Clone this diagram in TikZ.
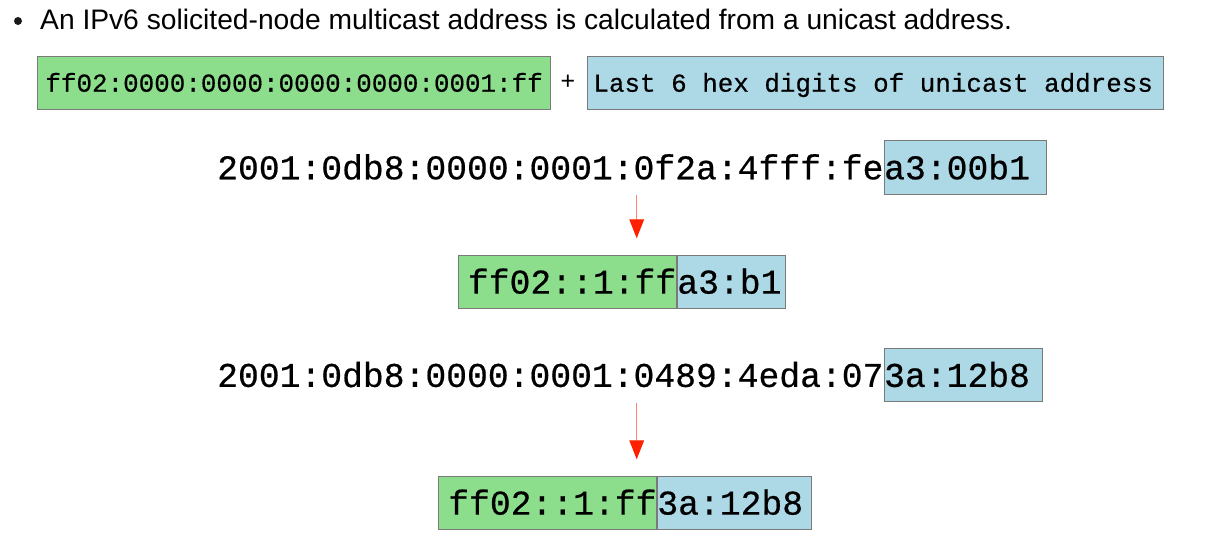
\documentclass[tikz,border=0pt]{standalone}
\usepackage{fontspec}
\setmainfont{Liberation Sans}
\newfontfamily\addrfont[FakeBold=0.5]{Liberation Mono}
\usetikzlibrary{arrows.meta}
\definecolor{mcgreen}{HTML}{8CDE8C}
\definecolor{ucblue}{HTML}{ADD8E6}
\definecolor{edgegray}{HTML}{7A7A7A}
\definecolor{arrowred}{HTML}{FF2000}

% fixed-width box content, text starts after a left pad
\newcommand{\celltext}[3]{\makebox[#1pt][l]{\hspace*{#2pt}#3}}

\begin{document}
\begin{tikzpicture}[x=1pt, y=-1pt,
    cell/.style={draw=edgegray, line width=0.9pt, inner sep=0pt},
    hdr/.style={font=\addrfont\fontsize{25.9}{30}\selectfont, text height=35.7pt, text depth=17.3pt},
    addr/.style={font=\addrfont\fontsize{34.7}{40}\selectfont, inner sep=0pt, text height=38.5pt, text depth=15pt},
    arr/.style={draw=arrowred!55, line width=1pt, -{Triangle[width=14.7pt, length=19pt, color=arrowred]}}]
    \useasboundingbox (0,0) rectangle (1217,555);

    % Heading
    \fill[black!90] (18,21) circle (4);
    \node[anchor=base west, inner sep=0pt, font=\fontsize{28.2}{32}\selectfont] (title) at (40,29.3)
        {An IPv6 solicited-node multicast address is calculated from a unicast address.};

    % Rule: prefix + last 6 hex digits
    \node[cell, hdr, fill=mcgreen, anchor=base west] (prefix) at (36.5,91.7)
        {\celltext{513.5}{8.5}{ff02:0000:0000:0000:0000:0001:ff}};
    \node[inner sep=0pt, font=\fontsize{25}{28}\selectfont] (plus) at (568,82) {+};
    \node[cell, hdr, fill=ucblue, anchor=base west] (suffix) at (587,91.7)
        {\celltext{575.7}{6}{Last 6 hex digits of unicast address}};

    % First example
    \node[addr, anchor=base west] (uni1) at (217,179.3) {2001:0db8:0000:0001:0f2a:4fff:fe};
    \node[addr, cell, fill=ucblue, anchor=base west] (uni1tail) at (uni1.base east) {\celltext{162.4}{0}{a3:00b1}};

    \coordinate (a1top) at (636.7,195);
    \coordinate (a1tip) at (636.7,238.3);
    \draw[arr] (a1top) -- (a1tip);

    \node[addr, cell, fill=mcgreen, anchor=base west] (sn1head) at (457.7,293.6) {\celltext{218.3}{9.8}{ff02::1:ff}};
    \node[addr, cell, fill=ucblue, anchor=base west] (sn1tail) at (sn1head.base east) {\celltext{108.3}{0}{a3:b1}};

    % Second example
    \node[addr, anchor=base west] (uni2) at (217,386.9) {2001:0db8:0000:0001:0489:4eda:07};
    \node[addr, cell, fill=ucblue, anchor=base west] (uni2tail) at (uni2.base east) {\celltext{158.5}{0}{3a:12b8}};

    \coordinate (a2top) at (636.7,402.6);
    \coordinate (a2tip) at (636.7,459.3);
    \draw[arr] (a2top) -- (a2tip);

    \node[addr, cell, fill=mcgreen, anchor=base west] (sn2head) at (438,514.6) {\celltext{218}{9.8}{ff02::1:ff}};
    \node[addr, cell, fill=ucblue, anchor=base west] (sn2tail) at (sn2head.base east) {\celltext{154}{0}{3a:12b8}};
\end{tikzpicture}
\end{document}
